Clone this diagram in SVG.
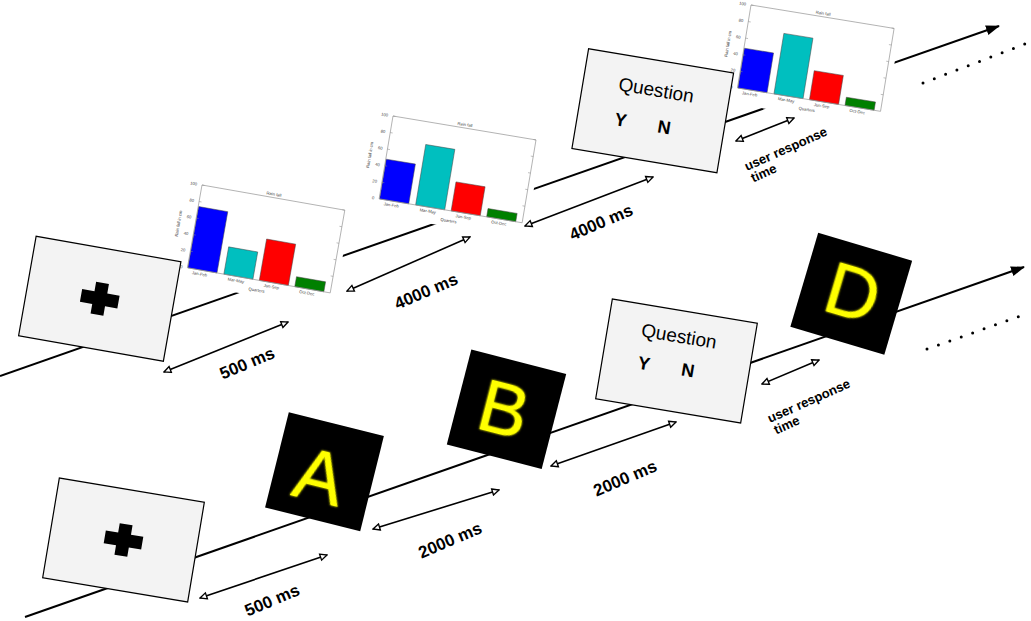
<svg xmlns="http://www.w3.org/2000/svg" width="1031" height="621" viewBox="0 0 1031 621">
<style>
.tl{stroke:#000;stroke-width:2;fill:none}
.dur{stroke:#000;stroke-width:1.6;fill:none;marker-start:url(#open);marker-end:url(#open)}
.dots{stroke:#000;stroke-width:3;stroke-linecap:round;stroke-dasharray:0 12.1;fill:none}
.card{fill:#f3f3f3;stroke:#000;stroke-width:1.2}
.sq{fill:#000}
.lbl{font-family:"Liberation Sans",Arial,sans-serif;font-weight:bold;font-size:17px;fill:#000;text-anchor:middle}
.urt{font-family:"Liberation Sans",Arial,sans-serif;font-weight:bold;font-size:13px;fill:#000}
.q{font-family:"Liberation Sans",Arial,sans-serif;font-size:19px;fill:#000;text-anchor:middle}
.yn{font-family:"Liberation Sans",Arial,sans-serif;font-weight:bold;font-size:18px;fill:#000;text-anchor:middle}
.let{font-family:"Liberation Sans",Arial,sans-serif;font-size:74px;fill:#ffff00;text-anchor:middle}
.ct{font-family:"Liberation Sans",Arial,sans-serif;font-size:4.2px;fill:#444}
.tick{stroke:#888;stroke-width:0.5}
.bar{stroke:#444;stroke-width:0.5}
</style>
<defs>
<marker id="open" viewBox="0 0 10 10" refX="9" refY="5" markerWidth="9" markerHeight="9" markerUnits="userSpaceOnUse" orient="auto-start-reverse">
<path d="M1.5,1.5 L9,5 L1.5,8.5 Z" fill="#fff" stroke="#000" stroke-width="1.5"/>
</marker>
<marker id="solid" viewBox="0 0 14 10" refX="13" refY="5" markerWidth="14" markerHeight="10" markerUnits="userSpaceOnUse" orient="auto">
<path d="M0,0 L14,5 L0,10 Z" fill="#000"/>
</marker>
<filter id="glow" x="-20%" y="-20%" width="140%" height="140%">
<feGaussianBlur in="SourceGraphic" stdDeviation="0.8" result="b"/>
<feMerge><feMergeNode in="b"/><feMergeNode in="SourceGraphic"/></feMerge>
</filter>
<rect id="chartBg" x="-21" y="-9" width="172" height="109" fill="#fff"/>
<g id="chartAxes">
<rect x="0" y="0" width="145" height="84" fill="none" stroke="#999" stroke-width="0.7"/>
<path class="tick" d="M0,0h2.5M0,16.8h2.5M0,33.6h2.5M0,50.4h2.5M0,67.2h2.5M145,0h-2.5M145,16.8h-2.5M145,33.6h-2.5M145,50.4h-2.5M145,67.2h-2.5"/>
<g class="ct" text-anchor="end">
<text x="-5" y="85.5">0</text>
<text x="-5" y="68.7">20</text>
<text x="-5" y="51.9">40</text>
<text x="-5" y="35.1">60</text>
<text x="-5" y="18.3">80</text>
<text x="-5" y="1.5">100</text>
</g>
<text class="ct" x="72.5" y="-2" text-anchor="middle" font-size="5">Rain fall</text>
<text class="ct" transform="translate(-15,42) rotate(-90)" text-anchor="middle" font-size="3.8">Rain fall in cm</text>
<g class="ct" text-anchor="middle" font-size="3.8">
<text x="13" y="89.5">Jan-Feb</text>
<text x="50" y="89.5">Mar-May</text>
<text x="86" y="89.5">Jun-Sep</text>
<text x="122" y="89.5">Oct-Dec</text>
<text x="72" y="95.5">Quarters</text>
</g>
</g>
</defs>

<g id="connectors">
<line class="tl" x1="0" y1="376" x2="999" y2="26" marker-end="url(#solid)"/>
<line class="tl" x1="25" y1="617" x2="1024" y2="267" marker-end="url(#solid)"/>
<line class="dots" x1="923" y1="83" x2="1025" y2="44"/>
<line class="dots" x1="927" y1="349" x2="1029" y2="313"/>
</g>

<g id="chart1" transform="translate(202,185) rotate(10)">
<use href="#chartBg"/>
<rect class="bar" x="0.5" y="21.8" width="29.5" height="62.2" fill="#0000ff"/>
<rect class="bar" x="37" y="56.3" width="29.5" height="27.7" fill="#00bfbf"/>
<rect class="bar" x="73" y="42" width="29.5" height="42" fill="#ff0000"/>
<rect class="bar" x="109" y="73.9" width="29.5" height="10.1" fill="#008000"/>
<use href="#chartAxes"/>
</g>
<g id="chart2" transform="translate(393,116) rotate(9.5)">
<use href="#chartBg"/>
<rect class="bar" x="0.5" y="43.7" width="29.5" height="40.3" fill="#0000ff"/>
<rect class="bar" x="37" y="22.7" width="29.5" height="61.3" fill="#00bfbf"/>
<rect class="bar" x="73" y="54.6" width="29.5" height="29.4" fill="#ff0000"/>
<rect class="bar" x="109" y="75.6" width="29.5" height="8.4" fill="#008000"/>
<use href="#chartAxes"/>
</g>
<g id="chart3" transform="translate(751,5) rotate(9.3)">
<use href="#chartBg"/>
<rect class="bar" x="0.5" y="43.7" width="29.5" height="40.3" fill="#0000ff"/>
<rect class="bar" x="37" y="22.7" width="29.5" height="61.3" fill="#00bfbf"/>
<rect class="bar" x="73" y="54.6" width="29.5" height="29.4" fill="#ff0000"/>
<rect class="bar" x="109" y="75.6" width="29.5" height="8.4" fill="#008000"/>
<use href="#chartAxes"/>
</g>

<g id="fix1" transform="translate(99.75,298.75) rotate(10)">
<rect class="card" x="-73.5" y="-50.5" width="147" height="101"/>
<path d="M-6.5,-16H6.5V-6.5H19V6.5H6.5V16H-6.5V6.5H-19V-6.5H-6.5Z" fill="#000"/>
</g>
<g id="question1" transform="translate(652.75,110.75) rotate(9.5)">
<rect class="card" x="-73.5" y="-50.5" width="147" height="101"/>
<text class="q" x="0" y="-14.5">Question</text>
<text class="yn" x="-30" y="20.5">Y</text>
<text class="yn" x="14" y="20.5">N</text>
</g>

<g id="fix2" transform="translate(123.5,540) rotate(9.5)">
<rect class="card" x="-73.5" y="-50.5" width="147" height="101"/>
<path d="M-6.5,-16H6.5V-6.5H19V6.5H6.5V16H-6.5V6.5H-19V-6.5H-6.5Z" fill="#000"/>
</g>
<g id="letterA" transform="translate(324.5,471.75) rotate(14)">
<rect class="sq" x="-49" y="-49" width="98" height="98"/>
<text class="let" x="-3.6" y="30.5" filter="url(#glow)">A</text>
</g>
<g id="letterB" transform="translate(506.5,409.25) rotate(14.5)">
<rect class="sq" x="-49" y="-49" width="98" height="98"/>
<text class="let" x="-2.7" y="25.7" filter="url(#glow)">B</text>
</g>
<g id="question2" transform="translate(676.5,361) rotate(9.5)">
<rect class="card" x="-73.5" y="-50.5" width="147" height="101"/>
<text class="q" x="-1.6" y="-18.5">Question</text>
<text class="yn" x="-31.7" y="13.8">Y</text>
<text class="yn" x="12.8" y="13.5">N</text>
</g>
<g id="letterD" transform="translate(851.25,293.75) rotate(16.5)">
<rect class="sq" x="-49" y="-49" width="98" height="98"/>
<text class="let" x="1.2" y="24.1" filter="url(#glow)">D</text>
</g>

<g id="durations">
<line class="dur" x1="164" y1="372" x2="288" y2="322"/>
<line class="dur" x1="347" y1="291" x2="470" y2="237"/>
<line class="dur" x1="525" y1="226" x2="653" y2="177"/>
<line class="dur" x1="736" y1="141" x2="794" y2="118"/>
<line class="dur" x1="200" y1="598" x2="327" y2="555"/>
<line class="dur" x1="373" y1="529" x2="499" y2="490"/>
<line class="dur" x1="551" y1="466" x2="676" y2="422"/>
<line class="dur" x1="762" y1="384" x2="819" y2="360"/>
</g>

<g id="labels">
<text class="lbl" transform="translate(247,363) rotate(-23)" y="6">500 ms</text>
<text class="lbl" transform="translate(426,291) rotate(-23)" y="6">4000 ms</text>
<text class="lbl" transform="translate(601,222) rotate(-23)" y="6">4000 ms</text>
<text class="lbl" transform="translate(272,600) rotate(-23)" y="6">500 ms</text>
<text class="lbl" transform="translate(450,540) rotate(-23)" y="6">2000 ms</text>
<text class="lbl" transform="translate(625,478) rotate(-23)" y="6">2000 ms</text>
<g transform="translate(747,171) rotate(-24)">
<text class="urt" x="0" y="0">user response</text>
<text class="urt" x="1" y="13">time</text>
</g>
<g transform="translate(770,423) rotate(-24)">
<text class="urt" x="0" y="0">user response</text>
<text class="urt" x="1" y="13">time</text>
</g>
</g>
</svg>
